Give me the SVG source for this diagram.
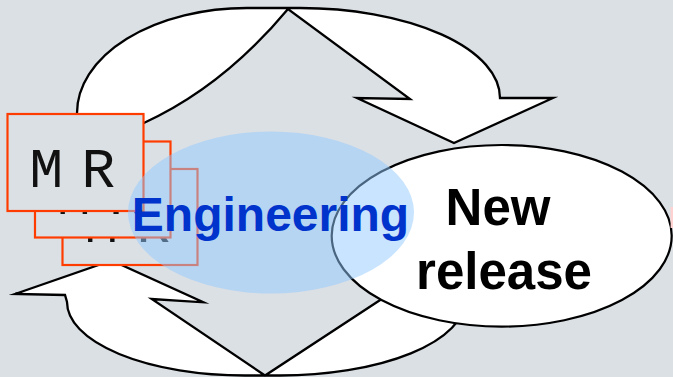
<svg xmlns="http://www.w3.org/2000/svg" width="673" height="377" viewBox="0 0 673 377">
  <style>
    .arrow { fill: #ffffff; stroke: #000000; stroke-width: 2.3; stroke-linejoin: miter; stroke-miterlimit: 10; }
    .card { fill: #dbe0e5; stroke: #ff3c00; stroke-width: 2.2; }
    .mr { font-family: "Liberation Mono", "Courier New", monospace; font-size: 56px; fill: #111111; text-anchor: middle; }
    .big { font-family: "Liberation Sans", Arial, sans-serif; font-weight: bold; text-anchor: middle; }
  </style>

  <!-- canvas -->
  <rect width="673" height="377" fill="#dbe0e5"/>

  <!-- the two curved arrows forming the release cycle -->
  <g id="connectors">
    <path id="arrow-top" class="arrow"
          d="M100,140 L143.3,123.3 Q223,87 288,9 L410,99 L357,98 L454,143 L553,98 L500,98
             A200,90 0 0 0 300,8 L247,8 A170,105 0 0 0 77,113 L77,140 Z"/>
    <path id="arrow-bottom" class="arrow"
          d="M15,294 L111.6,260.4 L203.3,302.3 L151.7,299 L265,375.5 L400,287 L465,300
             A185,75.5 0 0 1 280,375.5 L245,375.5 A178,73.5 0 0 1 67,302 L65,295 Z"/>
  </g>

  <!-- release node -->
  <g id="new-release">
    <ellipse cx="501.7" cy="235.8" rx="170" ry="90.8" fill="#ffffff" stroke="#000000" stroke-width="2.2"/>
    <text class="big" font-size="51" x="498" y="225" fill="#000000">New</text>
    <text class="big" font-size="51" x="504" y="289.3" fill="#000000">release</text>
    <!-- sliver of a shape at the right border -->
    <rect x="670.6" y="207" width="2.4" height="21" fill="#ffd2d2"/>
  </g>

  <!-- stacked merge-request cards, back to front -->
  <g id="mr-stack">
    <g id="mr-card-3">
      <rect class="card" x="62.5" y="169" width="135" height="96"/>
      <text class="mr" x="101.3 127.3 153.3" y="241.7">M R</text>
    </g>
    <g id="mr-card-2">
      <rect class="card" x="35" y="141.5" width="135.5" height="96"/>
      <text class="mr" x="73.8 99.8 125.8" y="214.2">M R</text>
    </g>
    <g id="mr-card-1">
      <rect class="card" x="7.5" y="114" width="136" height="97"/>
      <text class="mr" x="46.3 72.3 98.3" y="186.7">M R</text>
    </g>
  </g>

  <!-- engineering area, translucent over everything beneath -->
  <g id="engineering">
    <ellipse cx="271" cy="212.5" rx="143" ry="81" fill="#91c9ff" fill-opacity="0.5"/>
    <text class="big" font-size="48" x="270.5" y="231" fill="#0033cc">Engineering</text>
  </g>
</svg>
